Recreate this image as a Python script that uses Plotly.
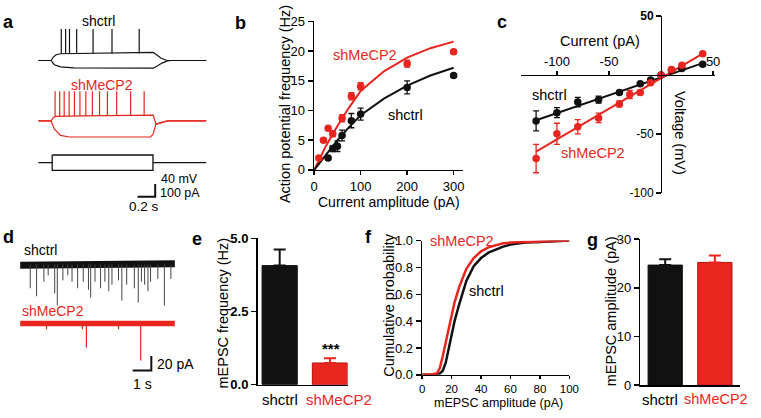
import plotly.graph_objects as go

W, H = 761, 418
RED = "#E8251F"
BLK = "#111111"
FONT = "Liberation Sans, Arial, sans-serif"

# ---------------- panel a : current-clamp traces ----------------
BLK_UP_T = [0.0, 0.144, 0.167, 0.20, 0.25, 0.60, 1.00, 1.30, 1.333, 1.39, 1.456, 1.90]
BLK_UP_MV = [0, 0, 10, 18, 21, 22, 24, 25, 19, 7, 0, 0]
BLK_DN_T = [0.0, 0.144, 0.18, 0.25, 0.40, 1.00, 1.30, 1.34, 1.40, 1.46, 1.50, 1.90]
BLK_DN_MV = [0, 0, -13, -20, -23, -24, -24, -18, -8, -1, 0, 0]
BLK_SPIKE_T = [0.259, 0.308, 0.352, 0.433, 0.619, 0.833, 1.141]
BLK_SPIKE_BASE, BLK_SPIKE_PEAK = 22, 98

RED_UP_T = [0.0, 0.144, 0.16, 0.19, 0.50, 1.00, 1.27, 1.30, 1.33, 1.38, 1.46, 1.90]
RED_UP_MV = [0, 0, 8, 14, 16, 18, 20, 18, -10, -6, 0, 0]
RED_DN_T = [0.0, 0.144, 0.18, 0.25, 0.35, 1.00, 1.27, 1.30, 1.33, 1.38, 1.46, 1.90]
RED_DN_MV = [0, 0, -25, -45, -50, -50, -50, -40, -10, -6, 0, 0]
RED_SPIKE_T = [0.189, 0.241, 0.292, 0.348, 0.408, 0.47, 0.537, 0.611, 0.692,
               0.781, 0.886, 1.044, 1.197]
RED_SPIKE_BASE, RED_SPIKE_PEAK = 15, 92

STIM_ON, STIM_OFF, STIM_END, STIM_PA = 0.156, 1.297, 1.90, 60
PA_TO_MV = 40 / 100          # scale bar: 40 mV <-> 100 pA
SB_A_S, SB_A_MV = 0.2, 40

# offsets (layout)
A_RED_OFF, A_STIM_OFF = -188, -318
A_SB_T, A_SB_Y = 1.322, -424

# ---------------- panel b : f-I ----------------
B_CUR_RED = [10, 20, 30, 40, 60, 80, 100, 200, 300]
B_F_RED = [2.0, 5.0, 7.0, 6.1, 8.7, 12.4, 14.1, 17.9, 19.9]
B_ERR_RED = [0.2, 0.3, 0.3, 0.5, 0.6, 0.6, 0.6, 0.6, 0.3]
B_CUR_BLK = [30, 40, 50, 60, 80, 100, 200, 300]
B_F_BLK = [2.0, 3.6, 4.0, 5.8, 8.3, 9.4, 13.9, 15.9]
B_ERR_BLK = [0.3, 0.5, 0.9, 0.9, 1.2, 1.0, 1.1, 0.3]
B_FIT_X = [0, 25, 50, 75, 100, 150, 200, 250, 300]
B_FIT_RED = [0, 4.0, 7.4, 10.5, 13.3, 16.6, 18.9, 20.5, 21.6]
B_FIT_BLK = [0, 2.6, 5.0, 7.2, 9.2, 12.0, 14.2, 15.9, 17.2]

# ---------------- panel c : I-V ----------------
C_CUR_BLK = [-120, -100, -80, -60, -40, -20, -10, 0, 10, 20, 40]
C_V_BLK = [-39, -32, -23, -21, -15, -7.5, -4.4, 0, 4, 5.5, 9]
C_ERR_BLK = [8.5, 4.2, 4, 3, 1.5, 1, 1, 0, 1, 1, 1]
C_CUR_RED = [-120, -100, -80, -60, -40, -30, -20, -10, 0, 10, 20, 40]
C_V_RED = [-71, -50, -44, -36.5, -24.6, -16.6, -14.9, -6.6, 0, 4.5, 8.3, 18]
C_ERR_RED = [12, 9, 6, 4, 2.5, 3.5, 2, 1, 0, 1, 1, 1]
C_FIT_X = [-120, 40]
C_FIT_BLK = [-38.5, 10]
C_FIT_RED = [-65, 18]

# ---------------- panel d : mEPSC traces ----------------
D_BLK_BASE_T = [0, 2, 4, 5.5, 6.5, 8.29]
D_BLK_BASE_PA = [-1, 0, 0, 1.5, 1.5, 1]
D_BLK_EV_T = [0.54, 0.88, 1.27, 1.5, 1.85, 1.99, 2.29, 2.55, 2.78, 3.08, 3.38, 3.66,
              3.78, 4.01, 4.31, 4.54, 4.75, 4.92, 5.27, 5.45, 5.71, 6.12, 6.33, 6.5,
              6.67, 6.85, 6.99, 7.38, 7.73, 8.08]
D_BLK_EV_PA = [33, 44, 24, 15, 40, 57, 22, 15, 24, 33, 24, 35, 46, 24, 33, 24, 37, 28,
               22, 50, 28, 33, 53, 24, 28, 37, 24, 20, 57, 20]
D_RED_BASE_T = [0, 8.29]
D_RED_BASE_PA = [0, 0]
D_RED_EV_T = [1.41, 3.34, 3.55, 5.27, 6.46]
D_RED_EV_PA = [8, 8, 33, 8, 51]
SB_D_S, SB_D_PA = 1, 20
D_RED_OFF = -81.7
D_SB_T, D_SB_Y = 7.03, -146.7

# ---------------- panel e : mEPSC frequency ----------------
E_GROUPS = ["shctrl", "shMeCP2"]
E_FREQ = [4.07, 0.74]
E_SEM = [0.55, 0.16]

# ---------------- panel f : cumulative amplitude ----------------
F_AMP = [0, 5, 10, 12, 14, 16, 18, 20, 22, 25, 28, 30, 35, 40, 45, 50, 55, 60, 70, 80, 90, 100]
F_CUM_RED = [0, 0, 0.01, 0.05, 0.14, 0.24, 0.35, 0.45, 0.54, 0.65, 0.74, 0.79, 0.87,
             0.92, 0.95, 0.965, 0.98, 0.985, 0.99, 0.995, 0.998, 1.0]
F_CUM_BLK = [0, 0, 0, 0.01, 0.03, 0.09, 0.2, 0.31, 0.4, 0.52, 0.63, 0.7, 0.81, 0.87,
             0.91, 0.935, 0.955, 0.97, 0.985, 0.99, 0.995, 1.0]

# ---------------- panel g : mEPSC amplitude ----------------
G_GROUPS = ["shctrl", "shMeCP2"]
G_AMP = [24.66, 25.2]
G_SEM = [1.2, 1.4]


def dom_x(x0, x1):
    return [x0 / W, x1 / W]


def dom_y(y0, y1):
    return [1 - y1 / H, 1 - y0 / H]


def vsegs(ts, bases, tips):
    xs, ys = [], []
    for t, b, p in zip(ts, bases, tips):
        xs += [t, t, None]
        ys += [b, p, None]
    return xs, ys


fig = go.Figure()


def line(x, y, color, width, xa, ya):
    fig.add_trace(go.Scatter(x=x, y=y, mode="lines", line=dict(color=color, width=width),
                             xaxis=xa, yaxis=ya, hoverinfo="skip", connectgaps=False))


# ---- panel a
line(BLK_UP_T, BLK_UP_MV, BLK, 1.2, "x", "y")
line(BLK_DN_T, BLK_DN_MV, BLK, 1.2, "x", "y")
sx, sy = vsegs(BLK_SPIKE_T, [BLK_SPIKE_BASE] * len(BLK_SPIKE_T), [BLK_SPIKE_PEAK] * len(BLK_SPIKE_T))
line(sx, sy, BLK, 1.2, "x", "y")
line(RED_UP_T, [v + A_RED_OFF for v in RED_UP_MV], RED, 1.2, "x", "y")
line(RED_DN_T, [v + A_RED_OFF for v in RED_DN_MV], RED, 1.2, "x", "y")
sx, sy = vsegs(RED_SPIKE_T, [RED_SPIKE_BASE + A_RED_OFF] * len(RED_SPIKE_T),
               [RED_SPIKE_PEAK + A_RED_OFF] * len(RED_SPIKE_T))
line(sx, sy, RED, 1.2, "x", "y")
sp = STIM_PA * PA_TO_MV
line([0, STIM_ON, None, STIM_OFF, STIM_END], [A_STIM_OFF, A_STIM_OFF, None, A_STIM_OFF, A_STIM_OFF],
     BLK, 1.3, "x", "y")
line([STIM_ON, STIM_OFF, STIM_OFF, STIM_ON, STIM_ON],
     [A_STIM_OFF + sp, A_STIM_OFF + sp, A_STIM_OFF - sp, A_STIM_OFF - sp, A_STIM_OFF + sp],
     BLK, 1.3, "x", "y")
line([A_SB_T - SB_A_S, A_SB_T, A_SB_T], [A_SB_Y, A_SB_Y, A_SB_Y + SB_A_MV], BLK, 2, "x", "y")


# ---- panel b
def pts(x, y, err, color, xa, ya, size=7.5):
    fig.add_trace(go.Scatter(x=x, y=y, mode="markers", marker=dict(color=color, size=size),
                             error_y=dict(type="data", array=err, color=color, thickness=1.3, width=3),
                             xaxis=xa, yaxis=ya, cliponaxis=False, hoverinfo="skip"))


line(B_FIT_X, B_FIT_RED, RED, 2, "x2", "y2")
line(B_FIT_X, B_FIT_BLK, BLK, 2, "x2", "y2")
pts(B_CUR_RED, B_F_RED, B_ERR_RED, RED, "x2", "y2")
pts(B_CUR_BLK, B_F_BLK, B_ERR_BLK, BLK, "x2", "y2")

# ---- panel c
line(C_FIT_X, C_FIT_BLK, BLK, 2, "x3", "y3")
line(C_FIT_X, C_FIT_RED, RED, 2, "x3", "y3")
pts(C_CUR_BLK, C_V_BLK, C_ERR_BLK, BLK, "x3", "y3")
pts(C_CUR_RED, C_V_RED, C_ERR_RED, RED, "x3", "y3")

# ---- panel d
line(D_BLK_BASE_T, D_BLK_BASE_PA, BLK, 7, "x4", "y4")
sx, sy = vsegs(D_BLK_EV_T, [0] * len(D_BLK_EV_T), [-a for a in D_BLK_EV_PA])
line(sx, sy, "#444444", 1, "x4", "y4")
line(D_RED_BASE_T, [v + D_RED_OFF for v in D_RED_BASE_PA], RED, 5.5, "x4", "y4")
sx, sy = vsegs(D_RED_EV_T, [D_RED_OFF] * len(D_RED_EV_T), [D_RED_OFF - a for a in D_RED_EV_PA])
line(sx, sy, RED, 1.2, "x4", "y4")
line([D_SB_T - SB_D_S, D_SB_T, D_SB_T], [D_SB_Y, D_SB_Y, D_SB_Y + SB_D_PA], BLK, 2, "x4", "y4")


# ---- panel e and g bars
def bars(vals, sems, xa, ya, width):
    for i, (v, s) in enumerate(zip(vals, sems)):
        c = BLK if i == 0 else RED
        edge = BLK if i == 0 else "#B3140F"
        fig.add_trace(go.Bar(x=[i], y=[v], width=width, marker=dict(color=c, line=dict(color=edge, width=1)),
                             error_y=dict(type="data", symmetric=False, array=[s], arrayminus=[0],
                                          color=c, thickness=2, width=6),
                             xaxis=xa, yaxis=ya, hoverinfo="skip"))


bars(E_FREQ, E_SEM, "x5", "y5", 0.7)
bars(G_AMP, G_SEM, "x7", "y7", 0.69)

# ---- panel f
line(F_AMP, F_CUM_BLK, BLK, 2.5, "x6", "y6")
line(F_AMP, F_CUM_RED, RED, 2.5, "x6", "y6")

# ---------------- axes ----------------
base = dict(showline=True, linecolor="black", linewidth=1.5, ticks="outside", ticklen=5,
            tickwidth=1.5, tickcolor="black", showgrid=False, zeroline=False,
            tickfont=dict(size=13, color="black", family=FONT), fixedrange=True)
hidden = dict(visible=False, showgrid=False, zeroline=False, fixedrange=True)

layout_axes = dict(
    xaxis=dict(hidden, domain=dom_x(30, 210), range=[-0.056, 1.944], anchor="y"),
    yaxis=dict(hidden, domain=dom_y(10, 215), range=[-478.5, 136.5], anchor="x"),
    xaxis2=dict(base, domain=dom_x(316, 468), range=[0, 321], tickvals=[0, 100, 200, 300],
                ticklen=4, anchor="y2"),
    yaxis2=dict(base, domain=dom_y(15, 169), range=[0, 25], tickvals=[0, 5, 10, 15, 20, 25], anchor="x2"),
    xaxis3=dict(base, domain=dom_x(526.7, 724), range=[-134.5, 51.5], anchor="free",
                position=1 - 70.4 / H, side="top", tickvals=[-100, -50, 50],
                ticktext=["-100", "-50", "50"], ticklen=4),
    yaxis3=dict(base, domain=dom_y(9.3, 192.7), range=[-100, 50], anchor="free",
                position=669.3 / W, side="left", tickvals=[50, -50, -100],
                ticktext=["<b>50</b>", "-50", "-100"], tickfont=dict(size=12, color="black", family=FONT)),
    xaxis4=dict(hidden, domain=dom_x(10, 180), range=[-0.342, 8.605], anchor="y4"),
    yaxis4=dict(hidden, domain=dom_y(240, 400), range=[-177.3, 36], anchor="x4"),
    xaxis5=dict(base, domain=dom_x(258.3, 350), range=[-0.44, 1.35], ticks="", showticklabels=False, anchor="y5"),
    yaxis5=dict(base, domain=dom_y(240, 391.7), range=[0, 5], tickvals=[0, 2.5, 5],
                ticktext=["<b>0.0</b>", "<b>2.5</b>", "<b>5.0</b>"], anchor="x5"),
    xaxis6=dict(base, domain=dom_x(426, 576), range=[0, 100], tickvals=[0, 20, 40, 60, 80, 100],
                ticklen=3, tickfont=dict(size=11.5, color="black", family=FONT), anchor="y6"),
    yaxis6=dict(base, domain=dom_y(242.3, 381.5), range=[0, 1], tickvals=[0, 0.2, 0.4, 0.6, 0.8, 1.0],
                tickformat=".1f", anchor="x6"),
    xaxis7=dict(base, domain=dom_x(648.3, 750), range=[-0.5, 1.51], ticks="", showticklabels=False, anchor="y7"),
    yaxis7=dict(base, domain=dom_y(240.7, 392.3), range=[0, 30], tickvals=[0, 10, 20, 30], anchor="x7"),
)


# ---------------- text ----------------
def ann(text, px, py, size=14.5, color="black", xanchor="center", yanchor="middle", angle=0):
    return dict(text=text, x=px / W, y=1 - py / H, xref="paper", yref="paper", showarrow=False,
                font=dict(size=size, color=color, family=FONT), xanchor=xanchor, yanchor=yanchor,
                textangle=angle)


def dann(text, x, y, xa, ya, size=14.5, color="black", xanchor="center"):
    return dict(text=text, x=x, y=y, xref=xa, yref=ya, showarrow=False,
                font=dict(size=size, color=color, family=FONT), xanchor=xanchor, yanchor="middle")


anns = [
    ann("<b>a</b>", 5, 16, 18), ann("<b>b</b>", 241, 17, 18), ann("<b>c</b>", 507, 16, 18),
    ann("<b>d</b>", 5, 239, 18), ann("<b>e</b>", 197, 241, 18), ann("<b>f</b>", 371, 239, 18),
    ann("<b>g</b>", 600, 242, 18),
    # a
    ann("shctrl", 96, 15, 14), ann("shMeCP2", 100, 81, 14, RED),
    ann("40 mV", 158, 178.5, 12.5, xanchor="left"), ann("100 pA", 157, 193, 12.5, xanchor="left"),
    ann("0.2 s", 143, 207, 13.5),
    # b
    ann("Action potential frequency (Hz)", 287, 101, angle=-90),
    ann("Current amplitude (pA)", 392, 202, 14),
    dann("shMeCP2", 36, 19.3, "x2", "y2", 14.5, RED, "left"),
    dann("shctrl", 196, 9.3, "x2", "y2", 14.5),
    # c
    ann("Current (pA)", 607, 35),
    ann("Voltage (mV)", 688, 131, angle=90),
    dann("shctrl", -107, -17.4, "x3", "y3", 14.5),
    dann("shMeCP2", -65, -66.5, "x3", "y3", 14.5, RED),
    # d
    ann("shctrl", 18, 252, 14, xanchor="left"), ann("shMeCP2", 16.5, 315, 14, RED, xanchor="left"),
    ann("20 pA", 154, 370, 14, xanchor="left"), ann("1 s", 141, 391, 14),
    # e
    ann("mEPSC frequency (Hz)", 223, 317, angle=-90),
    ann("<b>***</b>", 333, 354, 15),
    ann(E_GROUPS[0], 281, 407, 15), ann(E_GROUPS[1], 341, 407, 15, RED),
    # f
    ann("Cumulative probability", 392, 309, angle=-90),
    ann("mEPSC amplitude (pA)", 504, 411, 12.5),
    ann("shMeCP2", 432, 243, 14.5, RED, xanchor="left"),
    dann("shctrl", 44, 0.628, "x6", "y6", 14.5),
    # g
    ann("mEPSC amplitude (pA)", 618, 316, angle=-90),
    ann(G_GROUPS[0], 668, 407, 15), ann(G_GROUPS[1], 760, 407, 14.5, RED, xanchor="right"),
]

fig.update_layout(
    width=W, height=H, margin=dict(l=0, r=0, t=0, b=0),
    paper_bgcolor="white", plot_bgcolor="white", showlegend=False,
    font=dict(family=FONT, color="black"), barmode="overlay",
    annotations=anns, **layout_axes,
)

fig.write_html("out.html", config={"displayModeBar": False, "staticPlot": True},
               post_script="document.body.style.margin='0';document.body.style.overflow='hidden';")
